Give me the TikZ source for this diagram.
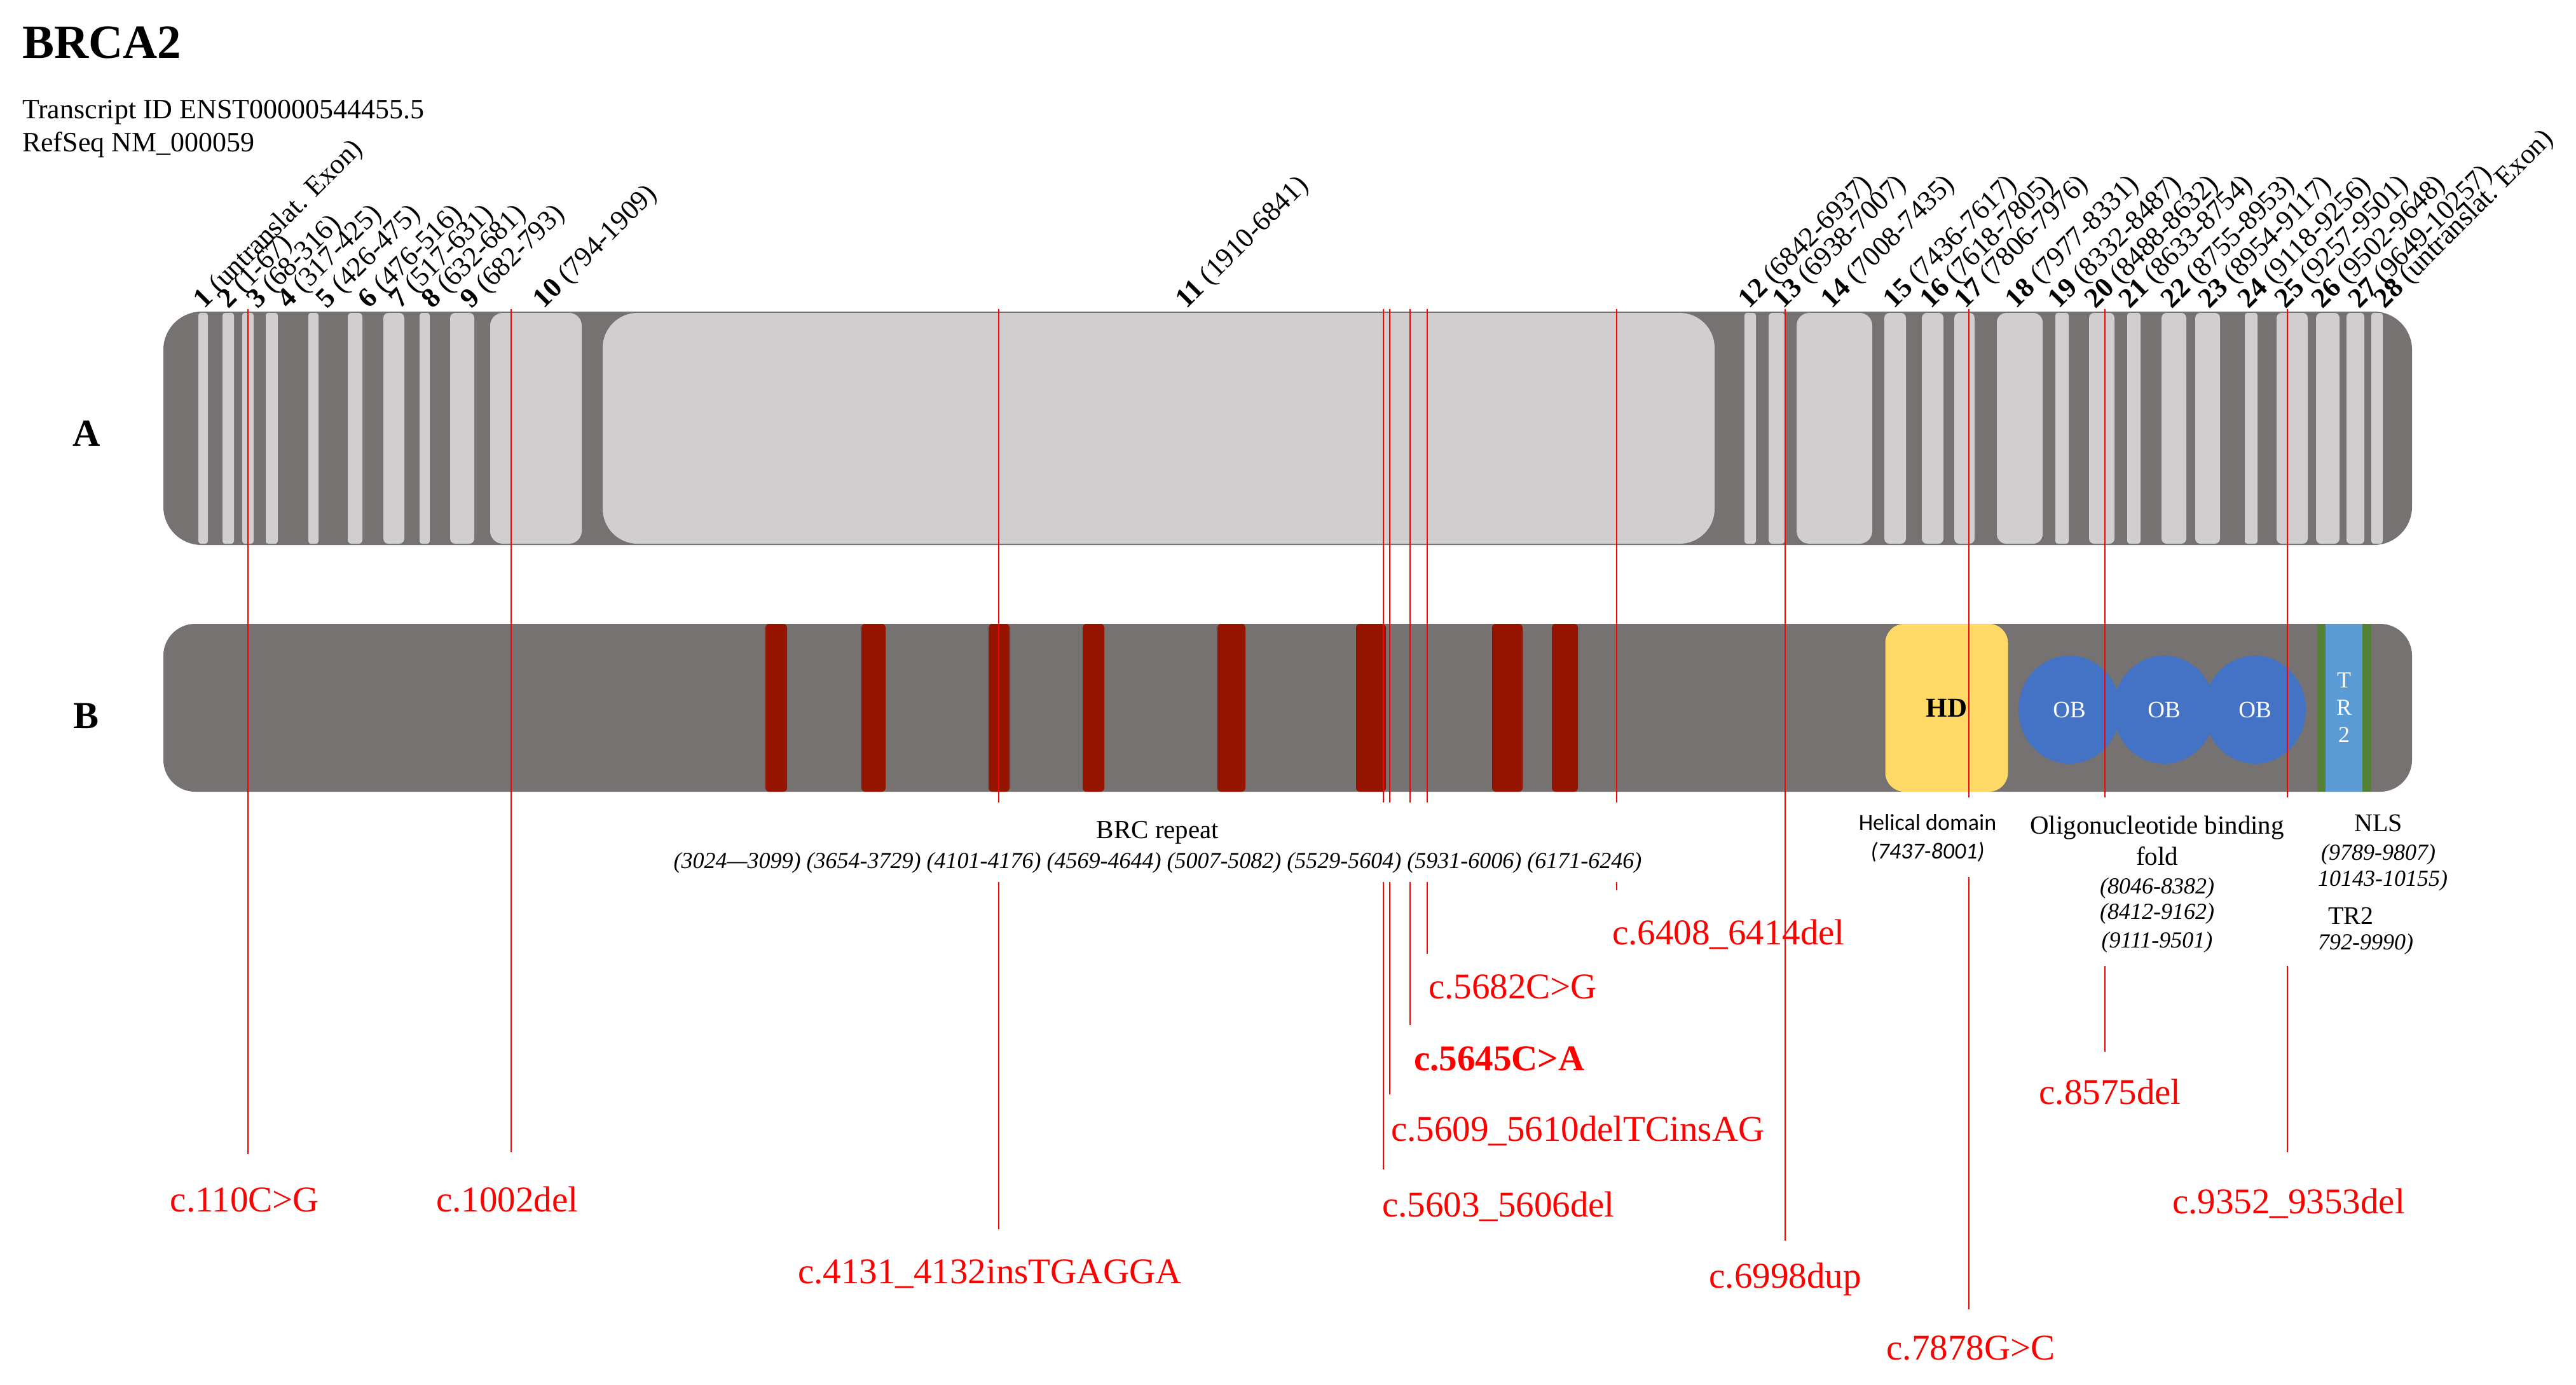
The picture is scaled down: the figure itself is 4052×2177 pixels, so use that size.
\documentclass[tikz,border=0pt]{standalone}
\usepackage{fontspec}
\setmainfont{Liberation Serif}
\newfontfamily\calibri{Carlito}
\usepackage{xcolor}
\usepackage{tikz}
\usetikzlibrary{shapes.geometric, positioning}
\definecolor{bargray}{RGB}{118,114,113}
\definecolor{exongray}{RGB}{208,206,207}
\definecolor{brcred}{RGB}{148,20,0}
\definecolor{hdyellow}{RGB}{255,217,102}
\definecolor{obblue}{RGB}{68,114,196}
\definecolor{trblue}{RGB}{91,155,213}
\definecolor{nlsgreen}{RGB}{84,130,53}

\begin{document}
\begin{tikzpicture}[
    x=0.2pt, y=-0.2pt,
    exonlab/.style={rotate=45, anchor=base west, inner sep=0pt, font=\fontsize{8.8}{10}\selectfont},
    rowlab/.style={anchor=base, inner sep=0pt, font=\fontsize{12}{14}\selectfont\bfseries},
    mutlab/.style={text=red, inner sep=0pt, font=\fontsize{11.4}{13}\selectfont},
    mutline/.style={red, line width=0.5pt},
    domlab/.style={anchor=base, inner sep=0pt, font=\fontsize{8.2}{10}\selectfont},
    rangelab/.style={anchor=base, inner sep=0pt, font=\fontsize{7.2}{9}\selectfont\itshape},
    hdbox/.style={rectangle, rounded corners=6pt, fill=hdyellow, minimum width=38.6pt, minimum height=52.8pt, inner sep=0pt, font=\fontsize{8.6}{10}\selectfont\bfseries},
    obnode/.style={ellipse, fill=obblue, minimum width=32pt, minimum height=34pt, inner sep=0pt, text=white, font=\fontsize{7.4}{9}\selectfont}
]
\useasboundingbox (0,0) rectangle (4052,2177);

% Header
\node[anchor=base west, inner sep=0pt, font=\fontsize{15}{18}\selectfont\bfseries] (title) at (34,91) {BRCA2};
\node[anchor=base west, inner sep=0pt, font=\fontsize{8.8}{10}\selectfont] (transcript) at (34,186) {Transcript ID ENST00000544455.5};
\node[anchor=base west, inner sep=0pt, font=\fontsize{8.8}{10}\selectfont] (refseq) at (34,238) {RefSeq NM\_000059};

% Row A: exons
\node[rowlab] (rowA) at (136,701) {A};
\fill[bargray, rounded corners=12pt] (257,490) rectangle (3794,857);
\foreach \xa/\xb/\rc in {312/327/0.8, 350/368/0.8, 381/399/0.8, 418/437/0.8, 485/501/0.8, 547/570/1.2,
    603/636/1.6, 660/676/0.8, 708/746/1.6, 771/915/4, 948/2697/11, 2744/2762/0.8, 2782/2808/1.2,
    2826/2945/4, 2964/2998/1.6, 3023/3057/1.6, 3074/3106/1.6, 3141/3213/3, 3233/3254/0.8,
    3286/3326/1.6, 3346/3367/0.8, 3400/3439/1.6, 3453/3492/1.6, 3531/3551/0.8, 3581/3630/1.6,
    3643/3680/1.6, 3691/3719/1.2, 3730/3748/0.8}
    \fill[exongray, rounded corners=\rc pt] (\xa,492) rectangle (\xb,855);

% Exon labels
\foreach \x/\num/\rng in {321/1/untranslat. Exon, 359/2/1-67, 405/3/68-316, 453/4/317-425,
    514/5/426-475, 580/6/476-516, 629/7/517-631, 680/8/632-681, 741/9/682-793, 855/10/794-1909,
    1866/11/1910-6841, 2751/12/6842-6937, 2805/13/6938-7007, 2881/14/7008-7435, 2979/15/7436-7617,
    3037/16/7618-7805, 3091/17/7806-7976, 3171/18/7977-8331, 3238/19/8332-8487, 3296/20/8488-8632,
    3350/21/8633-8754, 3416/22/8755-8953, 3475/23/8954-9117, 3537/24/9118-9256, 3595/25/9257-9501,
    3653/26/9502-9648, 3711/27/9649-10257, 3751/28/untranslat. Exon}
    \node[exonlab] (ex\num) at (\x,487) {\textbf{\num} (\rng)};

% Row B: protein domains
\node[rowlab] (rowB) at (136,1145) {B};
\fill[bargray, rounded corners=10pt] (257,981) rectangle (3794,1245);
\foreach \xa/\xb in {1204/1238, 1355/1393, 1555/1588, 1703/1737, 1915/1959, 2133/2180, 2347/2395, 2441/2482}
    \fill[brcred, rounded corners=1.2pt] (\xa,981) rectangle (\xb,1245);
\node[hdbox] (hd) at (3062,1113) {HD};
\foreach \x [count=\i] in {3255,3404,3547}
    \node[obnode] (ob\i) at (\x,1116) {OB};
\fill[nlsgreen] (3645,981) rectangle (3658,1245);
\fill[nlsgreen] (3716,981) rectangle (3730,1245);
\node[rectangle, fill=trblue, minimum width=11.6pt, minimum height=52.8pt, inner sep=0pt, text=white,
    align=center, font=\fontsize{7.2}{8.6}\selectfont] (tr2) at (3687,1113) {T\\R\\2};

% Variants
\node[mutlab, anchor=base] (m110lab) at (385,1905) {c.110C>G};
\node[mutlab, anchor=base] (m1002lab) at (798,1905) {c.1002del};
\node[mutlab, anchor=base] (m4131lab) at (1557,2018) {c.4131\_4132insTGAGGA};
\node[mutlab, anchor=base west] (m5603lab) at (2173,1913) {c.5603\_5606del};
\node[mutlab, anchor=base west] (m5609lab) at (2187,1794) {c.5609\_5610delTCinsAG};
\node[mutlab, anchor=base west, font=\fontsize{11.4}{13}\selectfont\bfseries] (m5645lab) at (2223,1683) {c.5645C>A};
\node[mutlab, anchor=base west] (m5682lab) at (2246,1570) {c.5682C>G};
\node[mutlab, anchor=base west] (m6408lab) at (2535,1485) {c.6408\_6414del};
\node[mutlab, anchor=base] (m6998lab) at (2808,2025) {c.6998dup};
\node[mutlab, anchor=base] (m7878lab) at (3100,2138) {c.7878G>C};
\node[mutlab, anchor=base] (m8575lab) at (3319,1736) {c.8575del};
\node[mutlab, anchor=base] (m9352lab) at (3600,1908) {c.9352\_9353del};

\coordinate (m110) at (390,486);
\coordinate (m1002) at (804,486);
\coordinate (m4131) at (1571,486);
\coordinate (m5603) at (2176,486);
\coordinate (m5609) at (2186,486);
\coordinate (m5645) at (2218,486);
\coordinate (m5682) at (2245,486);
\coordinate (m6408) at (2543,486);
\coordinate (m6998) at (2808,486);
\coordinate (m7878) at (3097,486);
\coordinate (m8575) at (3311,486);
\coordinate (m9352) at (3598,486);

\draw[mutline, shorten >=10.2pt] (m110) -- (m110 |- m110lab.north);
\draw[mutline, shorten >=10.4pt] (m1002) -- (m1002 |- m1002lab.north);
\draw[mutline, shorten >=9.2pt] (m4131) -- (m4131 |- m4131lab.north);
\draw[mutline, shorten >=6.6pt] (m5603) -- (m5603 |- m5603lab.north);
\draw[mutline, shorten >=6.4pt] (m5609) -- (m5609 |- m5609lab.north);
\draw[mutline, shorten >=6.4pt] (m5645) -- (m5645 |- m5645lab.north);
\draw[mutline, shorten >=6.2pt] (m5682) -- (m5682 |- m5682lab.north);
\draw[mutline, shorten >=8.8pt] (m6408) -- (m6408 |- m6408lab.north);
\draw[mutline, shorten >=6.6pt] (m6998) -- (m6998 |- m6998lab.north);
\draw[mutline, shorten >=8pt] (m7878) -- (m7878 |- m7878lab.north);
\draw[mutline, shorten >=8.2pt] (m8575) -- (m8575 |- m8575lab.north);
\draw[mutline, shorten >=11pt] (m9352) -- (m9352 |- m9352lab.north);

% Domain labels (white backing)
\fill[white] (1040,1262) rectangle (2600,1387);
\fill[white] (2905,1254) rectangle (3160,1379);
\fill[white] (3200,1254) rectangle (3645,1519);

\node[domlab] (brc) at (1821,1318) {BRC repeat};
\node[rangelab] (brcrng) at (1821,1365) {(3024—3099) (3654-3729) (4101-4176) (4569-4644) (5007-5082) (5529-5604) (5931-6006) (6171-6246)};
\node[domlab, font=\calibri\fontsize{7.2}{9}\selectfont] (hel) at (3032,1305) {Helical domain};
\node[rangelab, font=\calibri\fontsize{7.2}{9}\selectfont\itshape] (helrng) at (3032,1350) {(7437-8001)};
\node[domlab] (obfold1) at (3393,1311) {Oligonucleotide binding};
\node[domlab] (obfold2) at (3393,1360) {fold};
\node[rangelab] (obrng1) at (3393,1405) {(8046-8382)};
\node[rangelab] (obrng2) at (3393,1445) {(8412-9162)};
\node[rangelab] (obrng3) at (3393,1490) {(9111-9501)};
\node[domlab, font=\fontsize{8}{10}\selectfont] (nls) at (3741,1307) {NLS};
\node[rangelab] (nlsrng1) at (3741,1352) {(9789-9807)};
\node[rangelab, anchor=base west] (nlsrng2) at (3645,1393) {10143-10155)};
\node[domlab, font=\fontsize{8}{10}\selectfont] (trlab) at (3698,1453) {TR2};
\node[rangelab, anchor=base west] (trrng) at (3645,1493) {792-9990)};

\end{tikzpicture}
\end{document}
